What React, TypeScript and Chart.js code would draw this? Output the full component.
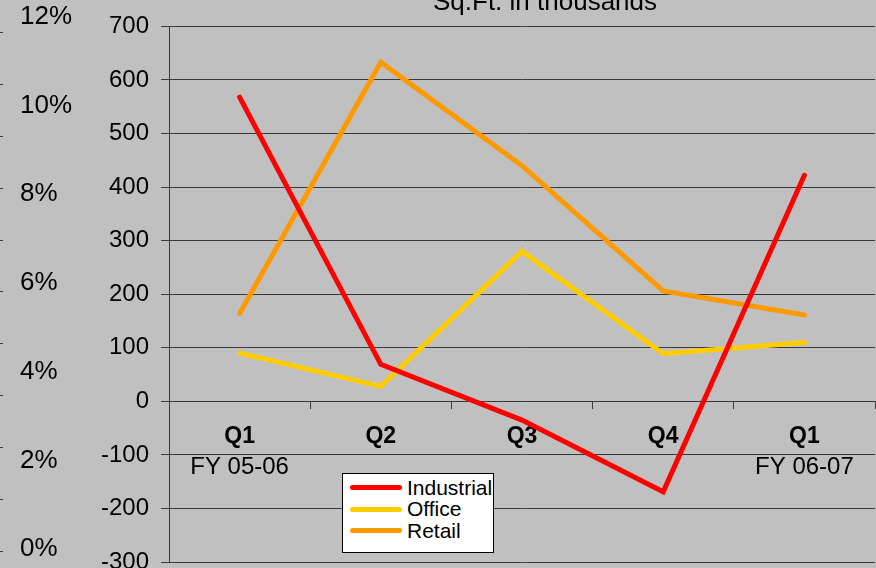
import React, { useEffect, useRef } from "react";
import { Chart, registerables } from "chart.js";

Chart.register(...registerables);

// ---- data ----
const quarters = ["Q1", "Q2", "Q3", "Q4", "Q1"];
const fiscalYears = ["FY 05-06", "", "", "", "FY 06-07"];
const industrial = [568, 69, -35, -169, 422];
const office = [90, 28, 280, 89, 110];
const retail = [164, 633, 440, 206, 161];
const seriesNames = ["Industrial", "Office", "Retail"];
const seriesColors = ["#FF0000", "#FFCC00", "#FF9900"];
const sqftMin = -300;
const sqftMax = 700;
const sqftStep = 100;
const percentTicks = [0, 2, 4, 6, 8, 10, 12];
const outerTicks = [0, 1, 2, 3, 4, 5, 6, 7, 8, 9, 10];
const titleText = "Sq.Ft. in thousands";

const FONT = '"Liberation Sans", Arial, Helvetica, sans-serif';
const GRID = "#3a3a3a";
const BG = "#C0C0C0";

const titlePlugin = {
  id: "sqftTitle",
  afterDraw(chart: any) {
    const ctx = chart.ctx;
    ctx.save();
    ctx.font = `26px ${FONT}`;
    ctx.fillStyle = "#000";
    ctx.textAlign = "center";
    ctx.textBaseline = "alphabetic";
    ctx.fillText(titleText, 545, 10);
    ctx.restore();
  },
};

export default function App() {
  const canvasRef = useRef<HTMLCanvasElement | null>(null);

  useEffect(() => {
    if (!canvasRef.current) return;
    const seriesData = [industrial, office, retail];
    const chart = new Chart(canvasRef.current, {
      type: "line",
      data: {
        labels: quarters,
        datasets: seriesNames.map((name, i) => ({
          label: name,
          data: seriesData[i],
          borderColor: seriesColors[i],
          backgroundColor: seriesColors[i],
          borderWidth: 5,
          borderCapStyle: "round",
          borderJoinStyle: "miter",
          pointRadius: 0,
          tension: 0,
          fill: false,
        })),
      },
      options: {
        animation: false,
        responsive: false,
        maintainAspectRatio: false,
        layout: { padding: { left: 0, right: 1, top: 26, bottom: 38 } },
        plugins: {
          legend: { display: false },
          tooltip: { enabled: false },
          title: { display: false },
        },
        scales: {
          x: {
            type: "category",
            position: { y: 0 },
            offset: true,
            grid: {
              offset: true,
              drawOnChartArea: false,
              drawTicks: true,
              tickLength: 7,
              color: GRID,
              lineWidth: 1,
            },
            border: { display: true, color: GRID, width: 1 },
            ticks: {
              padding: 15,
              color: "#000",
              font: { family: FONT, size: 23, weight: "bold" },
              maxRotation: 0,
              minRotation: 0,
              autoSkip: false,
            },
          },
          x2: {
            type: "category",
            labels: fiscalYears,
            position: { y: 0 },
            offset: true,
            grid: {
              display: true,
              drawOnChartArea: false,
              drawTicks: true,
              tickLength: 51,
              color: "rgba(0,0,0,0)",
            },
            border: { display: false },
            ticks: {
              padding: 1,
              color: "#000",
              font: { family: FONT, size: 24 },
              maxRotation: 0,
              minRotation: 0,
              autoSkip: false,
            },
          },
          y: {
            type: "linear",
            position: "left",
            weight: 0,
            min: sqftMin,
            max: sqftMax,
            ticks: {
              stepSize: sqftStep,
              padding: 12,
              color: "#000",
              font: { family: FONT, size: 24 },
            },
            grid: { color: GRID, tickLength: 8, lineWidth: 1 },
            border: { display: true, color: GRID, width: 1 },
            afterFit: (s: any) => {
              s.width = 69;
            },
          },
          y2: {
            type: "linear",
            position: "left",
            weight: 1,
            min: -0.288,
            max: 11.78,
            grid: { display: false },
            border: { display: false },
            ticks: {
              crossAlign: "far",
              color: "#000",
              font: { family: FONT, size: 26 },
              callback: (v: any) => `${v}%`,
            },
            afterBuildTicks: (s: any) => {
              s.ticks = percentTicks.map((v) => ({ value: v }));
            },
            afterFit: (s: any) => {
              s.width = 80;
            },
          },
          y3: {
            type: "linear",
            position: "left",
            weight: 2,
            min: -0.208,
            max: 10.12,
            ticks: { display: false },
            grid: {
              display: true,
              drawOnChartArea: false,
              drawTicks: true,
              tickLength: 20,
              tickBorderDash: [3, 100],
              color: GRID,
            },
            border: { display: false },
            afterBuildTicks: (s: any) => {
              s.ticks = outerTicks.map((v) => ({ value: v }));
            },
            afterFit: (s: any) => {
              s.width = 20;
            },
          },
        },
      } as any,
      plugins: [titlePlugin],
    });
    return () => chart.destroy();
  }, []);

  return (
    <div
      style={{
        position: "fixed",
        left: 0,
        top: 0,
        width: 876,
        height: 568,
        overflow: "hidden",
        background: BG,
      }}
    >
      <canvas
        ref={canvasRef}
        width={876}
        height={600}
        style={{ display: "block", width: 876, height: 600 }}
      />
      <div
        style={{
          position: "absolute",
          left: 342,
          top: 473,
          width: 152,
          height: 80,
          boxSizing: "border-box",
          background: "#fff",
          border: "1px solid #000",
          paddingTop: 2.5,
          fontFamily: FONT,
          fontSize: 21,
          color: "#000",
        }}
      >
        {seriesNames.map((name, i) => (
          <div
            key={name}
            style={{
              display: "flex",
              alignItems: "center",
              height: 21.7,
              lineHeight: "21.7px",
            }}
          >
            <div
              style={{
                marginLeft: 7,
                width: 52,
                height: 5,
                borderRadius: 2.5,
                background: seriesColors[i],
                flex: "0 0 auto",
              }}
            />
            <span style={{ marginLeft: 5, whiteSpace: "nowrap" }}>{name}</span>
          </div>
        ))}
      </div>
    </div>
  );
}
